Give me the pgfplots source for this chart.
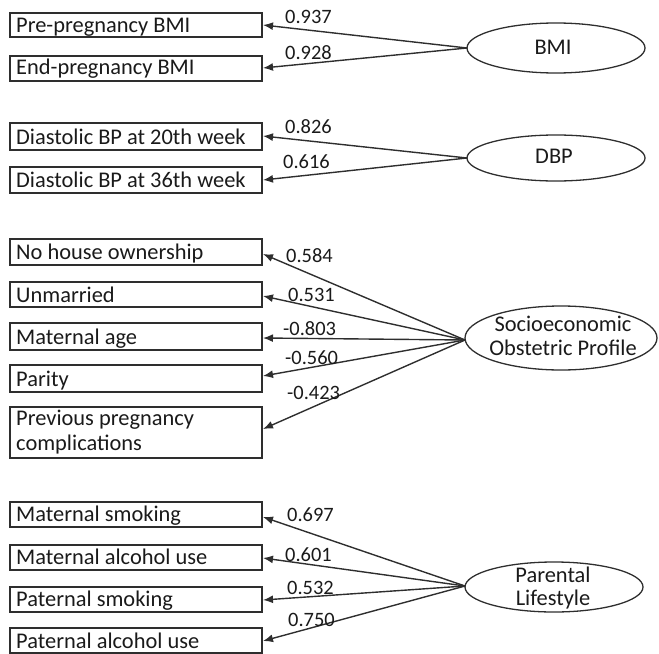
\documentclass[border=0pt]{standalone}
\usepackage{pgfplots}
\pgfplotsset{compat=1.18}
\usepackage{fontspec}
\setmainfont{Carlito}
\usetikzlibrary{arrows.meta}
\definecolor{ln}{HTML}{2E2E2E}
\definecolor{tx}{HTML}{1A1A1A}
\begin{document}
\begin{tikzpicture}[x=1bp,y=1bp]
\begin{axis}[
  width=659bp, height=654bp, scale only axis,
  xmin=0, xmax=659, ymin=0, ymax=654, y dir=reverse,
  hide axis, clip=false,
  arr/.style={color=ln, solid, no marks, line width=1.4pt, -{Latex[length=10bp,width=8bp]}},
]
\path (rel axis cs:0,0) rectangle (rel axis cs:1,1);
% arrows: latent centre -> indicator
\addplot[arr] coordinates {(467,48) (263,25)};
\addplot[arr] coordinates {(467,48) (263,68)};
\addplot[arr] coordinates {(467,158) (263,136)};
\addplot[arr] coordinates {(467,158) (263,180)};
\addplot[arr] coordinates {(465,340) (263,254)};
\addplot[arr] coordinates {(465,340) (263,296)};
\addplot[arr] coordinates {(465,340) (263,338)};
\addplot[arr] coordinates {(465,340) (263,376)};
\addplot[arr] coordinates {(465,340) (263,429)};
\addplot[arr] coordinates {(465,586) (263,517)};
\addplot[arr] coordinates {(465,586) (263,558)};
\addplot[arr] coordinates {(465,586) (263,600)};
\addplot[arr] coordinates {(465,586) (263,641)};

% boxes
\foreach \t/\b in {13/37,56/81,123/150,167/193,239/265,282/307,323/350,365/392,407/458,502/527,545/570,587/612,628/653}{
  \edef\tmp{\noexpand\draw[ln, line width=1.3pt] (axis cs:10,\t) rectangle (axis cs:262,\b);}\tmp
}
\begin{scope}[every node/.style={anchor=base west, inner sep=0pt, text=tx, font=\fontsize{22.5}{26}\selectfont}]
\node at (axis cs:16,33) {Pre-pregnancy BMI};
\node at (axis cs:16,75) {End-pregnancy BMI};
\node at (axis cs:16,144) {Diastolic BP at 20th week};
\node at (axis cs:16,187) {Diastolic BP at 36th week};
\node at (axis cs:16,259) {No house ownership};
\node at (axis cs:16,302) {Unmarried};
\node at (axis cs:16,344) {Maternal age};
\node at (axis cs:16,386) {Parity};
\node at (axis cs:16,425) {Previous pregnancy};
\node at (axis cs:16,450) {complications};
\node at (axis cs:16,521) {Maternal smoking};
\node at (axis cs:16,564) {Maternal alcohol use};
\node at (axis cs:16,606) {Paternal smoking};
\node at (axis cs:16,648) {Paternal alcohol use};
\end{scope}
% ellipses
\draw[ln, line width=1.3pt] (axis cs:556,48) ellipse [x radius=89bp, y radius=25bp];
\draw[ln, line width=1.3pt] (axis cs:556,158) ellipse [x radius=89bp, y radius=23bp];
\draw[ln, line width=1.3pt] (axis cs:561,338) ellipse [x radius=96bp, y radius=32bp];
\draw[ln, line width=1.3pt] (axis cs:554,587) ellipse [x radius=89bp, y radius=25bp];
\begin{scope}[every node/.style={anchor=base, inner sep=0pt, text=tx, font=\fontsize{22.5}{26}\selectfont}]
\node at (axis cs:553,55) {BMI};
\node at (axis cs:554,163) {DBP};
\node at (axis cs:563,331) {Socioeconomic};
\node at (axis cs:563,355) {Obstetric Profile};
\node at (axis cs:553,582) {Parental};
\node at (axis cs:553,605) {Lifestyle};
\end{scope}
% coefficients
\begin{scope}[every node/.style={anchor=base west, inner sep=0pt, text=tx, font=\fontsize{20.5}{24}\selectfont}]
\node at (axis cs:285,24) {0.937};
\node at (axis cs:285,60) {0.928};
\node at (axis cs:285,133) {0.826};
\node at (axis cs:283,168) {0.616};
\node at (axis cs:286,262) {0.584};
\node at (axis cs:288,301) {0.531};
\node at (axis cs:283,335) {-0.803};
\node at (axis cs:285,364) {-0.560};
\node at (axis cs:287,399) {-0.423};
\node at (axis cs:287,521) {0.697};
\node at (axis cs:285,561) {0.601};
\node at (axis cs:287,594) {0.532};
\node at (axis cs:288,626) {0.750};
\end{scope}
\end{axis}
\end{tikzpicture}
\end{document}
